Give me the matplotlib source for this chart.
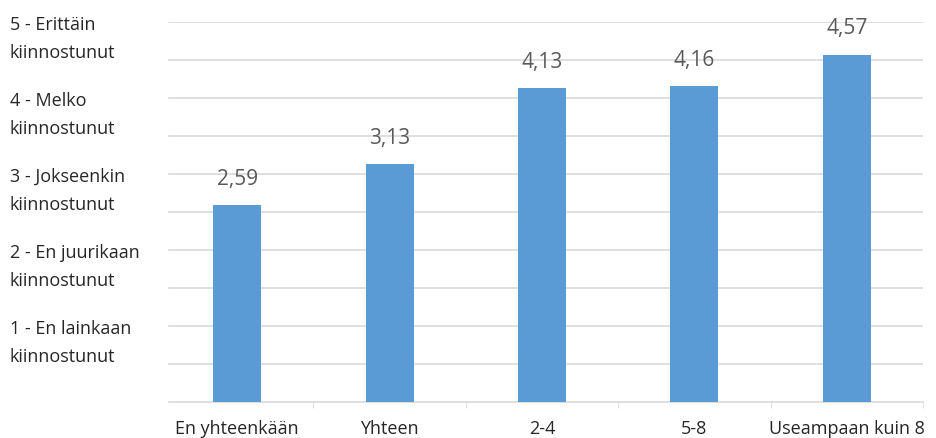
import numpy as np
import matplotlib
matplotlib.use("Agg")
import matplotlib.pyplot as plt
import matplotlib.transforms as mtransforms

plt.rcParams["font.family"] = ["Open Sans", "DejaVu Sans"]

categories = ["En yhteenkään", "Yhteen", "2-4", "5-8", "Useampaan kuin 8"]
values = [2.59, 3.13, 4.13, 4.16, 4.57]
scale_values = [5, 4, 3, 2, 1]
scale_labels = [
    "5 - Erittäin\nkiinnostunut",
    "4 - Melko\nkiinnostunut",
    "3 - Jokseenkin\nkiinnostunut",
    "2 - En juurikaan\nkiinnostunut",
    "1 - En lainkaan\nkiinnostunut",
]

bar_color = "#5B9BD5"
grid_color = "#D9D9D9"
text_color = "#262626"
label_color = "#595959"

fig = plt.figure(figsize=(9.37, 4.38), dpi=100)
ax = fig.add_axes([161 / 937, 36 / 438, 762 / 937, 380 / 438])

x = np.arange(len(categories))
bars = ax.bar(x, values, width=0.315, color=bar_color, zorder=3)

ax.set_xlim(-0.5, len(categories) - 0.5)
ax.set_ylim(0, 5)

# gridlines every half step, starting a little right of the axes edge
ax.set_yticks([])
for g in np.arange(0.5, 5.01, 0.5):
    ax.axhline(g, xmin=0.0105, xmax=1, color=grid_color, linewidth=1.2, zorder=0)

ax.set_xticks(x)
ax.set_xticklabels(categories, fontsize=13, color=text_color)
ax.tick_params(axis="x", length=0, pad=13)
ax.set_xticks(np.arange(0.5, len(categories), 1.0), minor=True)
ax.tick_params(axis="x", which="minor", length=4, color=grid_color, direction="out")

for side in ["top", "right", "left"]:
    ax.spines[side].set_visible(False)
ax.spines["bottom"].set_color(grid_color)
ax.spines["bottom"].set_linewidth(1.2)
ax.spines["bottom"].set_bounds(-0.447, 4.5)

# scale labels on the left, first line at the tick
trans = mtransforms.blended_transform_factory(fig.transFigure, ax.transData)
for v, lab in zip(scale_values, scale_labels):
    ax.text(10 / 937, v + 0.08, lab, transform=trans, ha="left", va="top",
            fontsize=13, color=text_color, linespacing=1.7)

for b, v in zip(bars, values):
    ax.annotate(f"{v:.2f}".replace(".", ","), (b.get_x() + b.get_width() / 2, v),
                xytext=(0, 11), textcoords="offset points", ha="center", va="bottom",
                fontsize=15, color=label_color)

fig.savefig("out.png", dpi=100)
